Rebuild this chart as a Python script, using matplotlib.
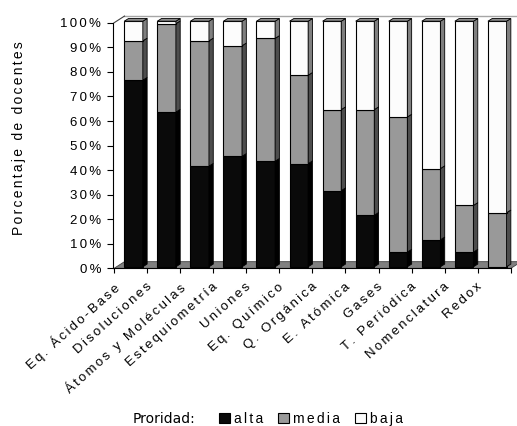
import numpy as np
import matplotlib.pyplot as plt
from matplotlib.patches import Polygon

plt.rcParams['font.family'] = ['Liberation Sans', 'DejaVu Sans']

# Prioridad asignada por los docentes a cada tema (porcentaje)
temas = ['Eq. Ácido-Base', 'Disoluciones', 'Átomos y Moléculas', 'Estequiometría',
         'Uniones', 'Eq. Químico', 'Q. Orgánica', 'E. Atómica', 'Gases',
         'T. Periódica', 'Nomenclatura', 'Redox']
alta = [76, 63, 41, 45, 43, 42, 31, 21, 6, 11, 6, 0]
media = [16, 36, 51, 45, 50, 36, 33, 43, 55, 29, 19, 22]
baja = [8, 1, 8, 10, 7, 22, 36, 36, 39, 60, 75, 78]
niveles = ['alta', 'media', 'baja']

# colores de cara frontal, lateral y superior por nivel
cara = ['#0a0a0a', '#999999', '#fcfcfc']
lado = ['#000000', '#4d4d4d', '#7f7f7f']
techo = ['#1a1a1a', '#6e6e6e', '#8c8c8c']

# geometría del efecto 3D (x en categorías, y en %)
ANCHO = 0.563
FX, FY = 0.09, 0.65      # desplazamiento de la cara frontal
BDX, BDY = 0.13, 1.1     # profundidad de cada barra
WDX, WDY = 0.316, 2.73   # profundidad del piso y la pared


def espaciar(texto):
    # tipografía con letras algo separadas
    return '\u200a\u200a'.join(texto)


fig = plt.figure(figsize=(5.17, 4.26), dpi=100)
ax = fig.add_axes([0.218, 0.370, 0.770, 0.5765])
n = len(temas)
ax.set_xlim(0, n)
ax.set_ylim(0, 100)

# piso y bordes de la pared del fondo
piso = Polygon([(0, 0), (n, 0), (n + WDX, WDY), (WDX, WDY)], closed=True,
               facecolor='#808080', edgecolor='#404040', lw=0.6, clip_on=False, zorder=1)
ax.add_patch(piso)
ax.plot([WDX, n + WDX], [100 + WDY, 100 + WDY], color='#a6a6a6', lw=1.0, clip_on=False, zorder=1)
ax.plot([0, WDX], [100, 100 + WDY], color='#404040', lw=0.8, clip_on=False, zorder=1)

x = np.arange(n) + 0.5 + FX
series = [np.array(alta, float), np.array(media, float), np.array(baja, float)]
base = np.zeros(n)
contenedores = []
for k, valores in enumerate(series):
    barras = ax.bar(x, valores, ANCHO, bottom=base + FY, color=cara[k], edgecolor='black',
                    lw=0.8, label=espaciar(niveles[k]), zorder=3, clip_on=False)
    contenedores.append(barras)
    for i in range(n):
        if valores[i] <= 0:
            continue
        y0 = base[i] + FY
        y1 = y0 + valores[i]
        xr = x[i] + ANCHO / 2
        xl = x[i] - ANCHO / 2
        ax.add_patch(Polygon([(xr, y0), (xr + BDX, y0 + BDY), (xr + BDX, y1 + BDY), (xr, y1)],
                             closed=True, facecolor=lado[k], edgecolor='black', lw=0.6,
                             zorder=3, clip_on=False))
        # techo solo en el segmento superior
        if base[i] + valores[i] >= 99.5:
            ax.add_patch(Polygon([(xl, y1), (xl + BDX, y1 + BDY), (xr + BDX, y1 + BDY), (xr, y1)],
                                 closed=True, facecolor=techo[k], edgecolor='black', lw=0.6,
                                 zorder=3, clip_on=False))
    base = base + valores

# ejes
for s in ['top', 'right']:
    ax.spines[s].set_visible(False)
for s in ['left', 'bottom']:
    ax.spines[s].set_linewidth(0.8)
    ax.spines[s].set_zorder(4)

ax.set_yticks(np.arange(0, 101, 10))
ax.set_yticklabels([espaciar(f'{v}%') for v in range(0, 101, 10)], fontsize=9.5)
ax.tick_params(axis='y', length=4.3, width=0.8, pad=4)

ax.set_xticks(np.arange(0, n + 1))
ax.set_xticklabels([])
ax.tick_params(axis='x', which='major', length=3.6, width=0.8)
ax.set_xticks(np.arange(n) + 0.5 - 0.54, minor=True)
ax.set_xticklabels([espaciar(t) for t in temas], minor=True, rotation=42, ha='right',
                   rotation_mode='anchor', fontsize=9.5)
ax.tick_params(axis='x', which='minor', length=0, pad=9)

fig.text(19 / 517, 1 - 138 / 426, espaciar('Porcentaje de docentes'), rotation=90,
         ha='center', va='center', fontsize=10)

# leyenda
fig.text(133 / 517, 1 - 419 / 426, 'Proridad:', family='DejaVu Sans', fontsize=10,
         ha='left', va='center')
fig.legend(handles=contenedores, loc='center', bbox_to_anchor=(311 / 517, 1 - 419 / 426),
           ncol=3, frameon=False, handlelength=0.75, handleheight=0.75, handletextpad=0.3,
           columnspacing=1.1, fontsize=10, borderpad=0)

fig.savefig('out.png', dpi=100)
